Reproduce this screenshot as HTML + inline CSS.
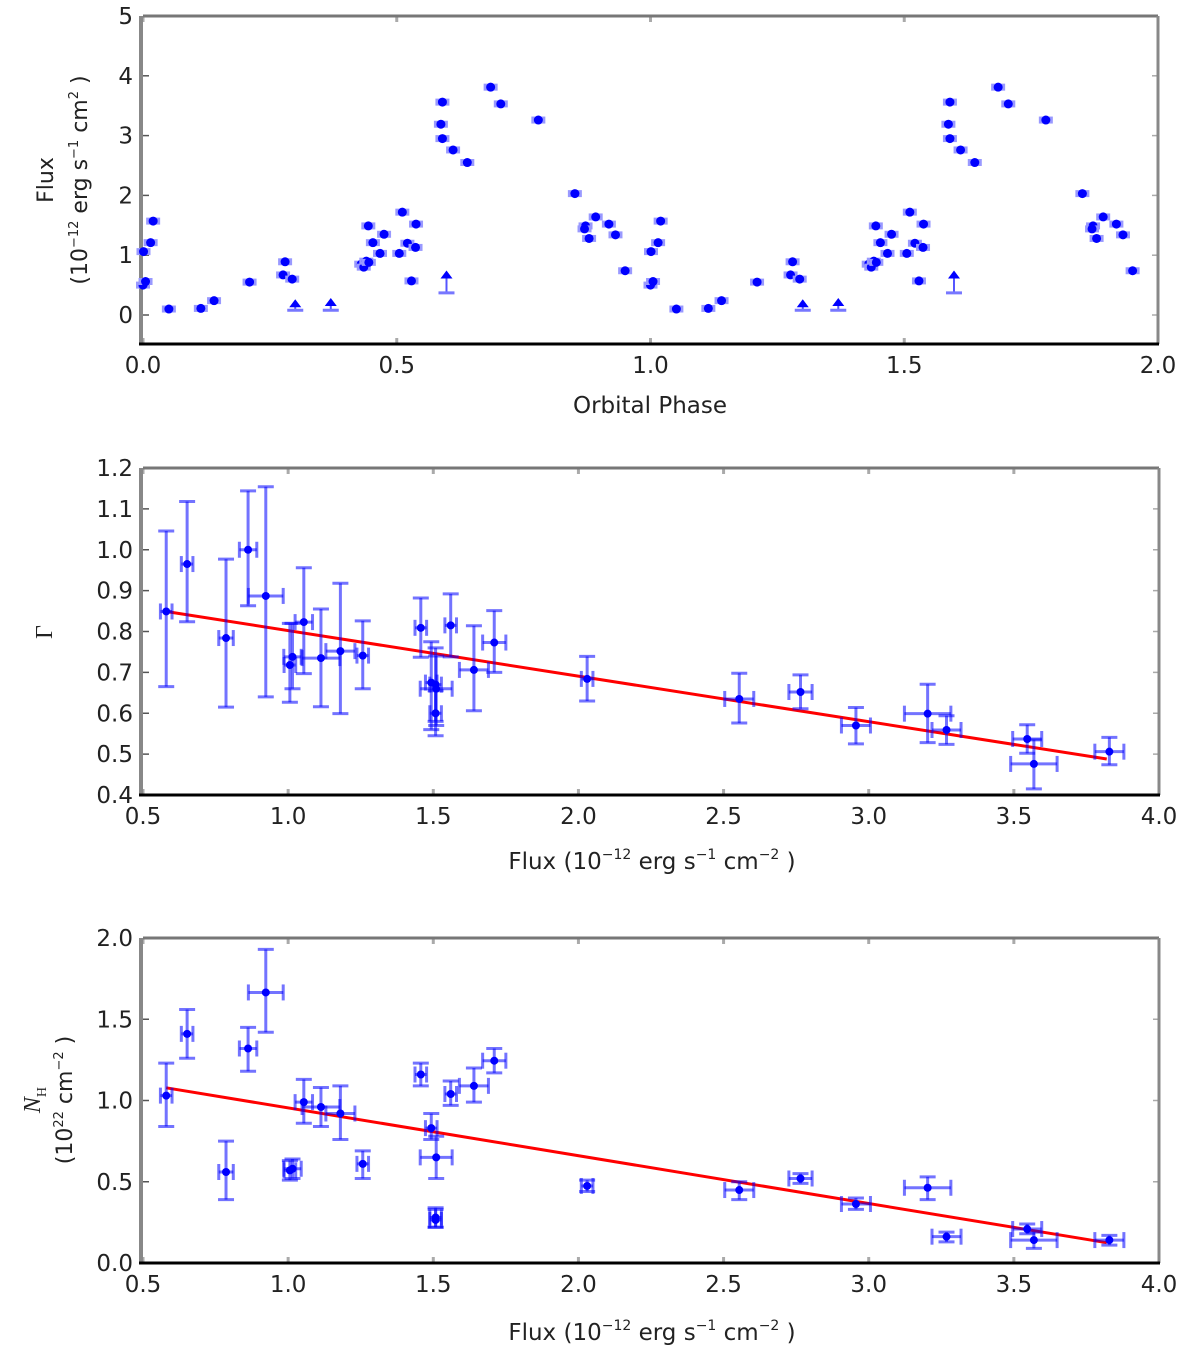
<!DOCTYPE html>
<html><head><meta charset="utf-8">
<style>
html,body{margin:0;padding:0;background:#fff;}
svg{display:block;font-family:"DejaVu Sans","Liberation Sans",sans-serif;}
</style></head>
<body>
<svg id="fig" width="1200" height="1362" viewBox="0 0 1200 1362" xmlns="http://www.w3.org/2000/svg">
<g id="p1"></g>
<g id="p2"></g>
<g id="p3"></g>
<text x="650" y="413" font-size="23" text-anchor="middle" fill="#222">Orbital Phase</text>
<g fill="#222" font-size="22">
<text transform="translate(53,180) rotate(-90)" text-anchor="middle">Flux</text>
<text transform="translate(87,180) rotate(-90)" text-anchor="middle">(10<tspan font-size="13" dy="-9">−12</tspan><tspan dy="9"> erg s</tspan><tspan font-size="13" dy="-9">−1</tspan><tspan dy="9">  cm</tspan><tspan font-size="13" dy="-9">2</tspan><tspan dy="9"> )</tspan></text>
</g>
<text x="652" y="869" font-size="23" text-anchor="middle" fill="#222">Flux  (10<tspan font-size="14" dy="-10">−12</tspan><tspan dy="10"> erg s</tspan><tspan font-size="14" dy="-10">−1</tspan><tspan dy="10">  cm</tspan><tspan font-size="14" dy="-10">−2</tspan><tspan dy="10"> )</tspan></text>
<text transform="translate(52,632) rotate(-90)" font-size="24" text-anchor="middle" font-family="Liberation Serif,serif" fill="#222">Γ</text>
<text x="652" y="1340" font-size="23" text-anchor="middle" fill="#222">Flux  (10<tspan font-size="14" dy="-10">−12</tspan><tspan dy="10"> erg s</tspan><tspan font-size="14" dy="-10">−1</tspan><tspan dy="10">  cm</tspan><tspan font-size="14" dy="-10">−2</tspan><tspan dy="10"> )</tspan></text>
<g fill="#222">
<text transform="translate(40,1100) rotate(-90)" text-anchor="middle" font-size="24" font-family="Liberation Serif,serif" font-style="italic">N<tspan font-size="14" font-style="normal" dy="6">H</tspan></text>
<text transform="translate(72,1100) rotate(-90)" text-anchor="middle" font-size="22">(10<tspan font-size="13" dy="-9">22</tspan><tspan dy="9"> cm</tspan><tspan font-size="13" dy="-9">−2</tspan><tspan dy="9"> )</tspan></text>
</g>
</svg>
<script>
// ---------- Panel 1 data (one orbital period; repeated at +1) ----------
var phase = [0.001,0.0,0.005,0.015,0.02,0.051,0.114,0.14,0.21,0.28,0.276,0.294,0.43,0.435,0.44,0.445,0.444,0.453,0.467,0.475,0.505,0.511,0.521,0.537,0.538,0.529,0.59,0.587,0.59,0.611,0.639,0.685,0.705,0.779,0.851,0.872,0.879,0.892,0.918,0.931,0.95,0.87];
var lcFlux = [1.06,0.5,0.56,1.21,1.57,0.1,0.11,0.24,0.55,0.89,0.67,0.6,0.85,0.8,0.9,0.88,1.49,1.21,1.03,1.35,1.03,1.72,1.2,1.13,1.52,0.57,3.56,3.19,2.95,2.76,2.55,3.81,3.53,3.26,2.03,1.49,1.28,1.64,1.52,1.34,0.74,1.44];
var ulPhase = [0.30,0.37,0.598];
var ulFlux = [0.18,0.20,0.66];
var ulLow = [0.08,0.08,0.37];
// ---------- Panels 2/3 data ----------
var flux = [0.58,0.652,0.786,0.862,0.923,1.006,1.015,1.054,1.113,1.18,1.257,1.457,1.493,1.508,1.51,1.508,1.56,1.64,1.71,2.03,2.554,2.765,2.956,3.203,3.268,3.546,3.569,3.829];
var fluxErr = [0.02,0.02,0.025,0.03,0.06,0.02,0.03,0.03,0.065,0.05,0.02,0.02,0.02,0.02,0.055,0.02,0.02,0.05,0.04,0.02,0.05,0.04,0.05,0.08,0.05,0.05,0.08,0.05];
var gamma = [0.849,0.965,0.784,1.0,0.887,0.718,0.738,0.823,0.735,0.752,0.741,0.809,0.675,0.67,0.66,0.6,0.815,0.706,0.773,0.684,0.635,0.652,0.57,0.599,0.559,0.537,0.476,0.506];
var gammaHi = [1.046,1.118,0.977,1.144,1.154,0.82,0.82,0.956,0.855,0.918,0.826,0.882,0.775,0.76,0.74,0.655,0.892,0.814,0.851,0.739,0.698,0.694,0.614,0.671,0.594,0.572,0.535,0.541];
var gammaLo = [0.665,0.824,0.615,0.863,0.64,0.627,0.66,0.697,0.616,0.599,0.66,0.737,0.56,0.58,0.57,0.545,0.738,0.606,0.7,0.63,0.576,0.611,0.525,0.528,0.524,0.502,0.415,0.474];
var nh = [1.03,1.41,0.56,1.32,1.665,0.57,0.58,0.99,0.96,0.92,0.61,1.16,0.83,0.265,0.65,0.28,1.04,1.09,1.245,0.474,0.449,0.52,0.363,0.463,0.162,0.209,0.141,0.141];
var nhHi = [1.23,1.56,0.75,1.45,1.93,0.63,0.64,1.13,1.08,1.09,0.69,1.23,0.92,0.33,0.78,0.34,1.12,1.2,1.32,0.51,0.50,0.55,0.40,0.53,0.19,0.24,0.19,0.17];
var nhLo = [0.84,1.26,0.39,1.18,1.42,0.51,0.52,0.86,0.84,0.76,0.52,1.09,0.76,0.22,0.52,0.22,0.97,0.99,1.17,0.44,0.39,0.49,0.33,0.39,0.13,0.18,0.09,0.11];
var fitG = [0.58,0.849,3.82,0.488];
var fitN = [0.58,1.078,3.82,0.125];
var p1XTicks = ["0.0","0.5","1.0","1.5","2.0"];
var p1YTicks = ["0","1","2","3","4","5"];
var fxTicks = ["0.5","1.0","1.5","2.0","2.5","3.0","3.5","4.0"];
var gTicks = ["0.4","0.5","0.6","0.7","0.8","0.9","1.0","1.1","1.2"];
var nTicks = ["0.0","0.5","1.0","1.5","2.0"];

var NS="http://www.w3.org/2000/svg";
function mk(tag, attrs, parent){var e=document.createElementNS(NS,tag);for(var k in attrs)e.setAttribute(k,attrs[k]);parent.appendChild(e);return e;}
function lin(d0,d1,r0,r1){return function(v){return r0+(v-d0)/(d1-d0)*(r1-r0);};}

function frame(g,L,T,R,B,xs,ys,xt,yt){
  for(var i=0;i<xt.length;i++){
    var x=xs(parseFloat(xt[i]));
    var t=mk('line',{x1:x,x2:x,y1:B,y2:B-6,stroke:'#aaa','stroke-width':3},g);
    
    
    var t2=mk('line',{x1:x,x2:x,y1:T,y2:T+6,stroke:'#aaa','stroke-width':3},g);
    
    
    var lb=mk('text',{x:x,y:B+29,'font-size':23,'text-anchor':'middle',fill:'#222'},g);
    lb.textContent=xt[i];
    
    
  }
  for(var j=0;j<yt.length;j++){
    var y=ys(parseFloat(yt[j]));
    var u=mk('line',{x1:L,x2:L+6,y1:y,y2:y,stroke:'#555','stroke-width':1.5},g);
    
    
    var u2=mk('line',{x1:R,x2:R-6,y1:y,y2:y,stroke:'#aaa','stroke-width':1.5},g);
    
    
    var yl=mk('text',{x:L-10,y:y+8,'font-size':23,'text-anchor':'end',fill:'#222'},g);
    yl.textContent=yt[j];
    
    
  }
  var a=mk('line',{x1:L-2,x2:L-2,y1:T,y2:B,stroke:'#888','stroke-width':4},g);
  
  
  var b=mk('line',{x1:L,x2:R,y1:T,y2:T,stroke:'#777','stroke-width':3},g);
  
  
  var c=mk('line',{x1:R,x2:R,y1:T,y2:B,stroke:'#888','stroke-width':3},g);
  
  
  var d=mk('line',{x1:L-4,x2:R+1,y1:B,y2:B,stroke:'#000','stroke-width':3},g);
  
  
}

// ---------- Panel 1 ----------
(function(){
  var g=document.getElementById('p1');
  var xs=lin(0,2,143,1158), ys=lin(0,5,315,16);
  frame(g,143,16,1158,344,xs,ys,p1XTicks,p1YTicks);
  for(var rep=0;rep<2;rep++){
    for(var i=0;i<phase.length;i++){
      var x=xs(phase[i]+rep), y=ys(lcFlux[i]);
      var eh=mk('line',{x1:x-7,x2:x+7,y1:y,y2:y,stroke:'#9999ff','stroke-width':7},g);
      
      
      var p=mk('circle',{cx:x,cy:y,r:4.5,fill:'#0000ff'},g);
      
      
    }
    for(var k=0;k<ulPhase.length;k++){
      var ux=xs(ulPhase[k]+rep), uy=ys(ulFlux[k]), ly=ys(ulLow[k]);
      var s=mk('line',{x1:ux,x2:ux,y1:uy,y2:ly,stroke:'#5555ff','stroke-width':2},g);
      
      
      var cap=mk('line',{x1:ux-8,x2:ux+8,y1:ly,y2:ly,stroke:'#7777ff','stroke-width':3},g);
      
      
      var ar=mk('path',{d:'M'+(ux-6)+' '+(uy+3)+' L'+ux+' '+(uy-5)+' L'+(ux+6)+' '+(uy+3)+' Z',fill:'#0000ff'},g);
      
      
    }
  }
})();

function errPanel(gid,T,B,ymin,ymax,vals,hi,lo,fit,yt){
  var g=document.getElementById(gid);
  var xs=lin(0.5,4.0,143,1159), ys=lin(ymin,ymax,B,T);
  frame(g,143,T,1159,B,xs,ys,fxTicks,yt);
  var fl=mk('line',{x1:xs(fit[0]),y1:ys(fit[1]),x2:xs(fit[2]),y2:ys(fit[3]),stroke:'#ff0000','stroke-width':3},g);
  
  
  for(var i=0;i<flux.length;i++){
    var x=xs(flux[i]), y=ys(vals[i]), yh=ys(hi[i]), yl=ys(lo[i]);
    var x0=xs(flux[i]-fluxErr[i]), x1=xs(flux[i]+fluxErr[i]);
    var eg=mk('g',{stroke:'#0000ff','stroke-opacity':0.55,'stroke-width':3,fill:'none'},g);
    
    
    mk('line',{x1:x,x2:x,y1:yh,y2:yl},eg);
    mk('line',{x1:x-8,x2:x+8,y1:yh,y2:yh},eg);
    mk('line',{x1:x-8,x2:x+8,y1:yl,y2:yl},eg);
    mk('line',{x1:x0,x2:x1,y1:y,y2:y},eg);
    mk('line',{x1:x0,x2:x0,y1:y-8,y2:y+8},eg);
    mk('line',{x1:x1,x2:x1,y1:y-8,y2:y+8},eg);
    var p=mk('circle',{cx:x,cy:y,r:4,fill:'#0000ff'},g);
    
    
  }
}
errPanel('p2',468,795,0.4,1.2,gamma,gammaHi,gammaLo,fitG,gTicks);
errPanel('p3',938,1263,0.0,2.0,nh,nhHi,nhLo,fitN,nTicks);
</script>
</body></html>
